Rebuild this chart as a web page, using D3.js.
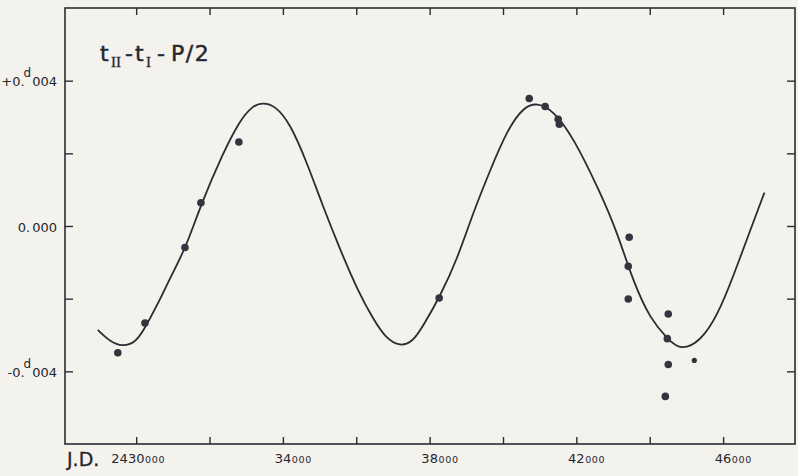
<!DOCTYPE html>
<html>
<head>
<meta charset="utf-8">
<script src="https://cdn.jsdelivr.net/npm/d3@7"></script>
<style>
  html, body { margin: 0; padding: 0; background: #f4f2ed; }
  svg { display: block; }
  text { font-family: 'DejaVu Sans', sans-serif; fill: #26262e; }
</style>
</head>
<body>
<div class="container"></div>
<script>
// observed minima: J.D. and (tII - tI - P/2) in days
const obsJD = [2429500, 2430240, 2431330, 2431765, 2432800, 2438260, 2440715, 2441150, 2441505, 2441535,
  2443440, 2443415, 2443415, 2444505, 2444480, 2444505, 2445215, 2444425];
const obsOC = [-0.00349, -0.00267, -0.00059, 0.00064, 0.00231, -0.00198, 0.00351, 0.00329, 0.00294, 0.00280,
  -0.00031, -0.00111, -0.00201, -0.00242, -0.00310, -0.00381, -0.00370, -0.00469];
const obsKind = ['n', 'n', 'n', 'n', 'n', 'n', 'n', 'n', 'n', 'n', 'n', 'n', 'n', 'n', 'n', 'n', 'small', 'n'];

// fitted curve
const fitJD = [2428955, 2429282, 2429637, 2429965, 2430183, 2430565, 2430974, 2431356, 2431765, 2432366,
  2432829, 2433157, 2433430, 2433784, 2434194, 2434658, 2435094, 2435558, 2436022, 2436458, 2436813,
  2437195, 2437550, 2437823, 2438286, 2438750, 2439187, 2439651, 2440115, 2440551, 2440933, 2441370,
  2441915, 2442652, 2443116, 2443552, 2444016, 2444480, 2444835, 2445381, 2445844, 2446281, 2446745, 2447127];
const fitOC = [-0.00286, -0.00318, -0.00332, -0.00321, -0.00291, -0.00220, -0.00133, -0.00059, 0.00059, 0.00201,
  0.00291, 0.00329, 0.00340, 0.00332, 0.00283, 0.00174, 0.00053, -0.00064, -0.00174, -0.00256, -0.00310,
  -0.00332, -0.00318, -0.00275, -0.00193, -0.00092, 0.00037, 0.00154, 0.00264, 0.00327, 0.00340, 0.00318,
  0.00245, 0.00092, -0.00018, -0.00154, -0.00256, -0.00310, -0.00343, -0.00318, -0.00247, -0.00138, -0.00010, 0.00092];

const xTicks = d3.range(2430000, 2446001, 2000);
const xLabels = [
  { jd: 2430000, big: '2430', small: '000' },
  { jd: 2434000, big: '34', small: '000' },
  { jd: 2438000, big: '38', small: '000' },
  { jd: 2442000, big: '42', small: '000' },
  { jd: 2446000, big: '46', small: '000' },
];
const yTicks = [-0.004, -0.002, 0, 0.002, 0.004];
const yLabels = [
  { v: 0.004, sign: '+0', rest: '004', sup: true },
  { v: 0, sign: '0.', rest: '000', sup: false },
  { v: -0.004, sign: '-0', rest: '004', sup: true },
];

const width = 798;
const height = 476;
const plotLeft = 65, plotRight = 795, plotTop = 8, plotBottom = 444;

const svg = d3
  .select('.container')
  .append('svg')
  .attr('width', width)
  .attr('height', height);

const xScale = d3.scaleLinear().domain([2428060, 2447960]).range([plotLeft, plotRight]);
const yScale = d3.scaleLinear().domain([-0.006, 0.006]).range([plotBottom, plotTop]);

const ink = '#2b2b33';

// frame
svg
  .append('rect')
  .attr('x', plotLeft)
  .attr('y', plotTop)
  .attr('width', plotRight - plotLeft)
  .attr('height', plotBottom - plotTop)
  .attr('fill', 'none')
  .attr('stroke', ink)
  .attr('stroke-width', 1.6);

// inward ticks on all four sides
const styleAxis = (g) => {
  g.select('.domain').remove();
  g.selectAll('line').attr('stroke', ink).attr('stroke-width', 1.4);
};
svg.append('g').attr('transform', `translate(0,${plotBottom})`)
  .call(d3.axisBottom(xScale).tickValues(xTicks).tickSize(-7).tickFormat('')).call(styleAxis);
svg.append('g').attr('transform', `translate(0,${plotTop})`)
  .call(d3.axisTop(xScale).tickValues(xTicks).tickSize(-7).tickFormat('')).call(styleAxis);
svg.append('g').attr('transform', `translate(${plotLeft},0)`)
  .call(d3.axisLeft(yScale).tickValues(yTicks).tickSize(-8).tickFormat('')).call(styleAxis);
svg.append('g').attr('transform', `translate(${plotRight},0)`)
  .call(d3.axisRight(yScale).tickValues(yTicks).tickSize(-8).tickFormat('')).call(styleAxis);

// x labels: last two big digits centred on the tick, small trailing zeros after
xLabels.forEach((d) => {
  const probe = svg.append('text').style('font-size', '13px').text(d.big.slice(-2));
  const w2 = probe.node().getComputedTextLength();
  probe.remove();
  const endX = xScale(d.jd) + w2 / 2;
  svg
    .append('text')
    .attr('x', endX)
    .attr('y', 463)
    .attr('text-anchor', 'end')
    .style('font-size', '13px')
    .text(d.big);
  svg
    .append('text')
    .attr('x', endX + 0.5)
    .attr('y', 463)
    .style('font-size', '9.5px')
    .style('letter-spacing', '0.7px')
    .text(d.small);
});

svg
  .append('text')
  .attr('x', 67)
  .attr('y', 466)
  .style('font-size', '19px')
  .style('stroke', '#26262e')
  .style('stroke-width', 0.3)
  .text('J.D.');

// y labels
yLabels.forEach((d) => {
  const t = svg
    .append('text')
    .attr('x', 57)
    .attr('y', yScale(d.v) + 5.5)
    .attr('text-anchor', 'end')
    .style('font-size', '13px');
  if (d.sup) {
    t.append('tspan').text(d.sign + '.');
    t.append('tspan').attr('dx', -1).attr('dy', -9).style('font-size', '12px').text('d');
    t.append('tspan').attr('dx', 1).attr('dy', 9).text(d.rest);
  } else {
    t.append('tspan').text(d.sign);
    t.append('tspan').attr('dx', 2).text(d.rest);
  }
});

// title
const title = svg
  .append('text')
  .attr('y', 61)
  .style('font-size', '22px')
  .style('stroke', '#26262e')
  .style('stroke-width', 0.5);
const sub = "'Liberation Serif', 'DejaVu Serif', serif";
title.append('tspan').attr('x', 100).text('t');
title.append('tspan').attr('x', 111).attr('dy', 6).style('font-family', sub).style('font-size', '15px').style('stroke-width', 0.3).text('II');
title.append('tspan').attr('x', 125).attr('dy', -6).text('-');
title.append('tspan').attr('x', 135).text('t');
title.append('tspan').attr('x', 146).attr('dy', 6).style('font-family', sub).style('font-size', '15px').style('stroke-width', 0.3).text('I');
title.append('tspan').attr('x', 157).attr('dy', -6).text('-');
title.append('tspan').attr('x', 171).style('letter-spacing', '1.5px').text('P/2');

// fitted curve
const fit = fitJD.map((jd, i) => [jd, fitOC[i]]);
const line = d3
  .line()
  .x((d) => xScale(d[0]))
  .y((d) => yScale(d[1]))
  .curve(d3.curveBasis);

svg
  .append('path')
  .datum(fit)
  .attr('d', line)
  .attr('fill', 'none')
  .attr('stroke', ink)
  .attr('stroke-width', 1.8);

// observed points
const obs = obsJD.map((jd, i) => ({ jd, oc: obsOC[i], kind: obsKind[i] }));
svg
  .append('g')
  .selectAll('circle')
  .data(obs)
  .enter()
  .append('circle')
  .attr('cx', (d) => xScale(d.jd))
  .attr('cy', (d) => yScale(d.oc))
  .attr('r', (d) => (d.kind === 'small' ? 2.6 : 3.8))
  .attr('fill', '#34343f');
</script>
</body>
</html>
